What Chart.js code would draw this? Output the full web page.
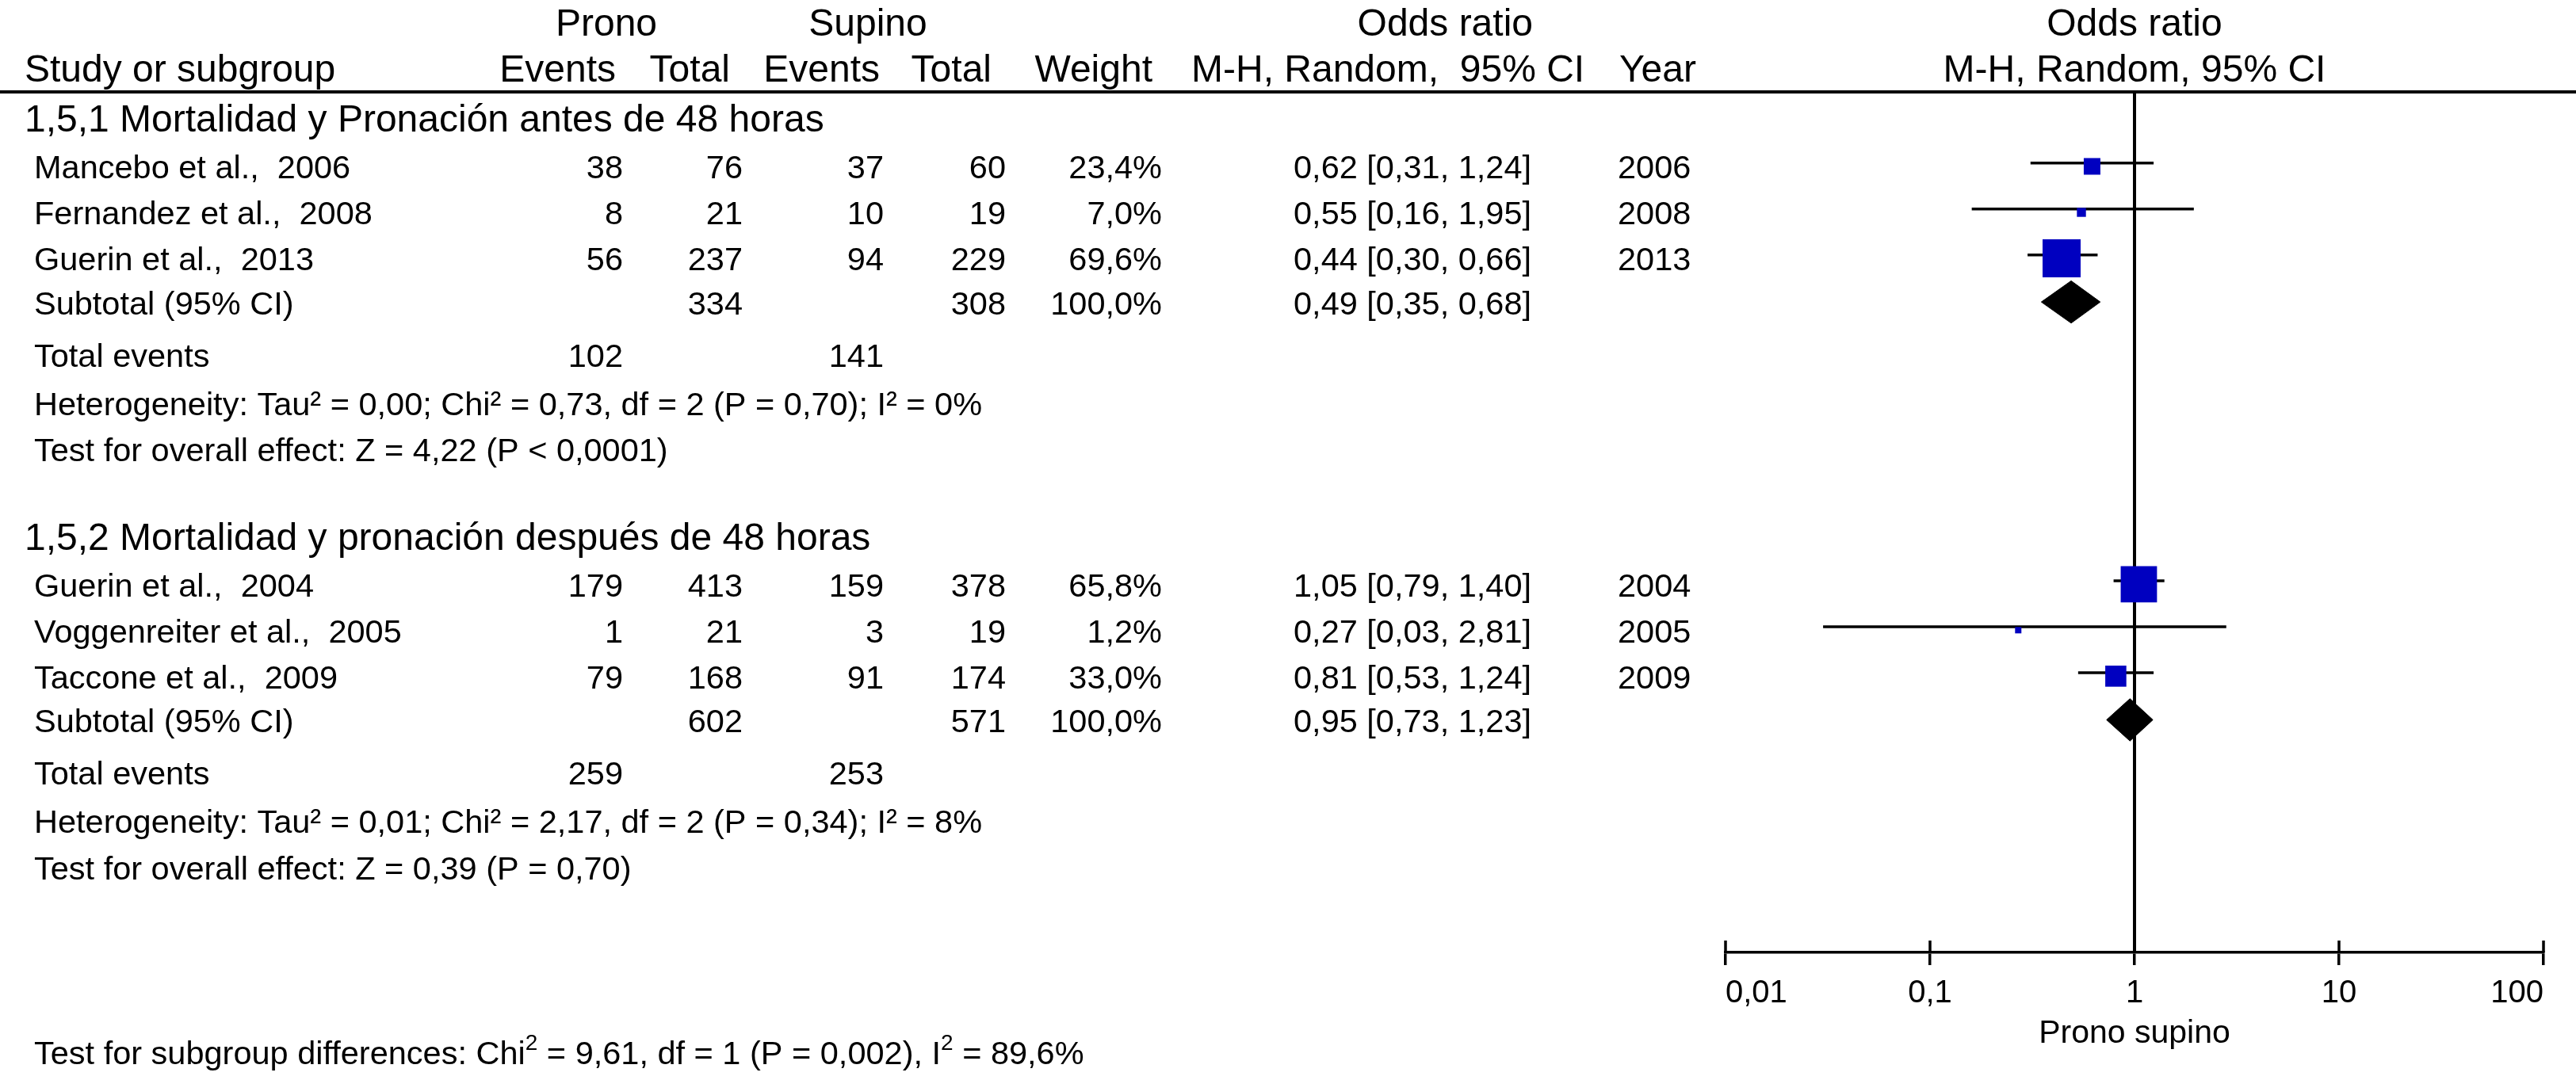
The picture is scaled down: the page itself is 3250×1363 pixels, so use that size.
<!DOCTYPE html>
<html>
<head>
<meta charset="utf-8">
<script src="https://cdn.jsdelivr.net/npm/chart.js@4/dist/chart.umd.min.js"></script>
<style>
html,body{margin:0;padding:0;background:#fff;}
#wrap{width:3250px;height:1363px;position:relative;}
</style>
</head>
<body>
<div id="wrap"><canvas id="c"></canvas></div>
<script>
// ---------- DATA ----------
const groupNames = ['1,5,1 Mortalidad y Pronación antes de 48 horas', '1,5,2 Mortalidad y pronación después de 48 horas'];
const studies = ['Mancebo et al.,  2006', 'Fernandez et al.,  2008', 'Guerin et al.,  2013', 'Guerin et al.,  2004', 'Voggenreiter et al.,  2005', 'Taccone et al.,  2009'];
const studyGroup = [0, 0, 0, 1, 1, 1];
const pronoEvents = [38, 8, 56, 179, 1, 79];
const pronoTotal = [76, 21, 237, 413, 21, 168];
const supinoEvents = [37, 10, 94, 159, 3, 91];
const supinoTotal = [60, 19, 229, 378, 19, 174];
const weights = [23.4, 7.0, 69.6, 65.8, 1.2, 33.0];
const orEst = [0.62, 0.55, 0.44, 1.05, 0.27, 0.81];
const orLow = [0.31, 0.16, 0.30, 0.79, 0.03, 0.53];
const orHigh = [1.24, 1.95, 0.66, 1.40, 2.81, 1.24];
const years = [2006, 2008, 2013, 2004, 2005, 2009];

const subPronoTotal = [334, 602];
const subSupinoTotal = [308, 571];
const subWeight = [100.0, 100.0];
const subEst = [0.49, 0.95];
const subLow = [0.35, 0.73];
const subHigh = [0.68, 1.23];
const totalEventsProno = [102, 259];
const totalEventsSupino = [141, 253];
const heterogeneity = ['Heterogeneity: Tau² = 0,00; Chi² = 0,73, df = 2 (P = 0,70); I² = 0%',
                       'Heterogeneity: Tau² = 0,01; Chi² = 2,17, df = 2 (P = 0,34); I² = 8%'];
const overallEffect = ['Test for overall effect: Z = 4,22 (P < 0,0001)',
                       'Test for overall effect: Z = 0,39 (P = 0,70)'];
const subgroupTest = [['Test for subgroup differences: Chi', false], ['2', true], [' = 9,61, df = 1 (P = 0,002), I', false], ['2', true], [' = 89,6%', false]];

const xTicks = [0.01, 0.1, 1, 10, 100];
const tickLabels = ['0,01', '0,1', '1', '10', '100'];
const axisTitle = 'Prono supino';

// ---------- LAYOUT (row units on the y scale) ----------
const Y_MAX = 18.72;
const GROUP_OFFSET = [0, 9.09];
const L = {header: 0.57, study0: 1.62, whiskerShift: -0.075, subtotal: 4.57, totalEvents: 5.71, het: 6.76, overall: 7.77};
const TEXT_DY = 4;
const FONT = '"Liberation Sans", Arial, Helvetica, sans-serif';
const BLUE = '#0000C0';

function studyRow(i) {
  const g = studyGroup[i];
  const idx = studyGroup.slice(0, i).filter(v => v === g).length;
  return GROUP_OFFSET[g] + L.study0 + idx;
}
function subRow(g) { return GROUP_OFFSET[g] + L.subtotal; }
function fmt(v, d) { return v.toFixed(d).replace('.', ','); }
function boxSide(w) { return 7.3 + 0.585 * w; }

// ---------- DATASETS ----------
const datasets = [];
// boxes
datasets.push({
  label: 'boxes',
  data: studies.map((s, i) => ({x: orEst[i], y: studyRow(i)})),
  pointStyle: 'rect',
  pointRadius: weights.map(w => boxSide(w) / (2 * Math.SQRT1_2)),
  pointHoverRadius: weights.map(w => boxSide(w) / (2 * Math.SQRT1_2)),
  pointBackgroundColor: BLUE,
  pointBorderWidth: 0,
  showLine: false,
  order: 1
});
// diamonds
subEst.forEach((e, g) => {
  const r = subRow(g), h = 0.46;
  datasets.push({
    label: 'diamond' + g,
    data: [{x: subLow[g], y: r}, {x: e, y: r - h}, {x: subHigh[g], y: r}, {x: e, y: r + h}, {x: subLow[g], y: r}],
    showLine: true, fill: 'shape', backgroundColor: '#000', borderColor: '#000', borderWidth: 1,
    pointRadius: 0, tension: 0, order: 2
  });
});
// whiskers
studies.forEach((s, i) => {
  const r = studyRow(i) + L.whiskerShift;
  datasets.push({
    label: 'ci' + i,
    data: [{x: orLow[i], y: r}, {x: orHigh[i], y: r}],
    showLine: true, borderColor: '#000', borderWidth: 3.5, pointRadius: 0, order: 3
  });
});
// line of no effect
datasets.push({
  label: 'null',
  data: [{x: 1, y: 0}, {x: 1, y: Y_MAX}],
  showLine: true, borderColor: '#000', borderWidth: 4, pointRadius: 0, order: 10
});

// ---------- TABLE PLUGIN ----------
const tablePlugin = {
  id: 'table',
  afterDraw(chart) {
    const ctx = chart.ctx, ys = chart.scales.y, xs = chart.scales.x;
    const Y = u => ys.getPixelForValue(u);
    function t(s, x, y, align, size) {
      ctx.font = size + 'px ' + FONT;
      ctx.textAlign = align; ctx.textBaseline = 'middle'; ctx.fillStyle = '#000';
      ctx.fillText(String(s), x, y + TEXT_DY);
    }
    ctx.save();
    // header
    const H = 48, R = 41.5;
    t('Prono', 765, 28, 'center', H);
    t('Supino', 1095, 28, 'center', H);
    t('Odds ratio', 1934, 28, 'right', H);
    t('Odds ratio', xs.getPixelForValue(1), 28, 'center', H);
    t('Study or subgroup', 31, 86, 'left', H);
    t('Events', 777, 86, 'right', H);
    t('Total', 921, 86, 'right', H);
    t('Events', 1110, 86, 'right', H);
    t('Total', 1251, 86, 'right', H);
    t('Weight', 1454, 86, 'right', H);
    t('M-H, Random,  95% CI', 1503, 86, 'left', H);
    t('Year', 2043, 86, 'left', H);
    t('M-H, Random, 95% CI', xs.getPixelForValue(1), 86, 'center', H);
    // header rule
    ctx.strokeStyle = '#000'; ctx.lineWidth = 4;
    ctx.beginPath(); ctx.moveTo(0, chart.chartArea.top); ctx.lineTo(3250, chart.chartArea.top); ctx.stroke();

    groupNames.forEach((gn, g) => {
      const o = GROUP_OFFSET[g];
      t(gn, 31, Y(o + L.header), 'left', H);
      studies.forEach((s, i) => {
        if (studyGroup[i] !== g) return;
        const y = Y(studyRow(i));
        t(s, 43, y, 'left', R);
        t(pronoEvents[i], 786, y, 'right', R);
        t(pronoTotal[i], 937, y, 'right', R);
        t(supinoEvents[i], 1115, y, 'right', R);
        t(supinoTotal[i], 1269, y, 'right', R);
        t(fmt(weights[i], 1) + '%', 1466, y, 'right', R);
        t(fmt(orEst[i], 2) + ' [' + fmt(orLow[i], 2) + ', ' + fmt(orHigh[i], 2) + ']', 1932, y, 'right', R);
        t(years[i], 2041, y, 'left', R);
      });
      const ys2 = Y(o + L.subtotal);
      t('Subtotal (95% CI)', 43, ys2, 'left', R);
      t(subPronoTotal[g], 937, ys2, 'right', R);
      t(subSupinoTotal[g], 1269, ys2, 'right', R);
      t(fmt(subWeight[g], 1) + '%', 1466, ys2, 'right', R);
      t(fmt(subEst[g], 2) + ' [' + fmt(subLow[g], 2) + ', ' + fmt(subHigh[g], 2) + ']', 1932, ys2, 'right', R);
      const yt = Y(o + L.totalEvents);
      t('Total events', 43, yt, 'left', R);
      t(totalEventsProno[g], 786, yt, 'right', R);
      t(totalEventsSupino[g], 1115, yt, 'right', R);
      t(heterogeneity[g], 43, Y(o + L.het), 'left', R);
      t(overallEffect[g], 43, Y(o + L.overall), 'left', R);
    });

    // upper halves of axis ticks
    const b = chart.chartArea.bottom;
    ctx.lineWidth = 3.5; ctx.strokeStyle = '#000';
    xTicks.forEach(v => {
      const x = xs.getPixelForValue(v);
      ctx.beginPath(); ctx.moveTo(x, b - 15); ctx.lineTo(x, b); ctx.stroke();
    });

    // footer with superscripts
    let fx = 43; const fy = 1328 + TEXT_DY;
    subgroupTest.forEach(([s, sup]) => {
      const size = sup ? 28 : R;
      ctx.font = size + 'px ' + FONT;
      ctx.textAlign = 'left'; ctx.textBaseline = 'middle'; ctx.fillStyle = '#000';
      ctx.fillText(s, fx, sup ? fy - 15 : fy);
      fx += ctx.measureText(s).width;
    });
    ctx.restore();
  }
};

new Chart(document.getElementById('c'), {
  type: 'scatter',
  data: {datasets},
  options: {
    responsive: true,
    maintainAspectRatio: false,
    animation: false,
    events: [],
    layout: {padding: {left: 2177, right: 41, top: 116, bottom: 0}},
    plugins: {legend: {display: false}, tooltip: {enabled: false}},
    scales: {
      x: {
        type: 'logarithmic',
        min: xTicks[0], max: xTicks[xTicks.length - 1],
        position: 'bottom',
        afterBuildTicks: s => { s.ticks = xTicks.map(v => ({value: v})); },
        afterFit: s => { s.height = 1363 - 1202; s.paddingLeft = 0; s.paddingRight = 0; },
        ticks: {
          callback: v => { const k = xTicks.indexOf(v); return k >= 0 ? tickLabels[k] : ''; },
          autoSkip: false, maxRotation: 0, minRotation: 0, align: 'inner',
          color: '#000', padding: 12, font: {family: FONT, size: 40}
        },
        grid: {drawOnChartArea: false, drawTicks: true, tickLength: 16, color: '#000', lineWidth: 3.5},
        border: {display: true, color: '#000', width: 3.5},
        title: {display: true, text: axisTitle, color: '#000', font: {family: FONT, size: 41}, padding: {top: 0, bottom: 34}}
      },
      y: {type: 'linear', display: false, reverse: true, min: 0, max: Y_MAX}
    }
  },
  plugins: [tablePlugin]
});
</script>
</body>
</html>
